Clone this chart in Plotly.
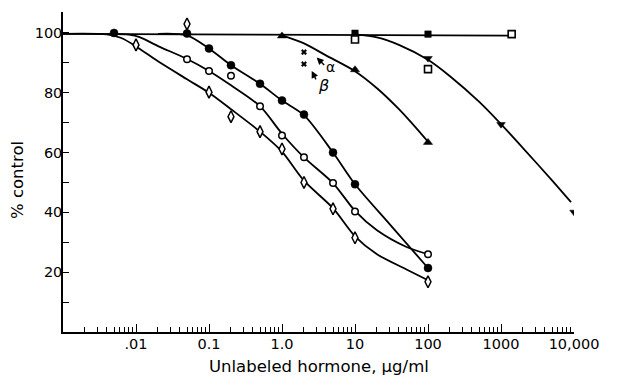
import numpy as np
import plotly.graph_objects as go

# ---------------- data ----------------
# marker series: x in ug/ml, y in % control
fcirc_x = [0.005, 0.05, 0.1, 0.2, 0.5, 1, 2, 5, 10, 100]
fcirc_y = [100, 99.8, 94.8, 89.2, 83, 77.4, 72.7, 60, 49.4, 21.4]

ocirc_x = [0.05, 0.1, 0.2, 0.5, 1, 2, 5, 10, 100]
ocirc_y = [91.2, 87.3, 85.7, 75.5, 65.7, 58.4, 49.8, 40.3, 26]

diam_x = [0.01, 0.05, 0.1, 0.2, 0.5, 1, 2, 5, 10, 100]
diam_y = [96, 103, 80.2, 72, 67, 61.2, 50, 41.2, 31.5, 16.8]

fsq_x = [10, 100, 1400]
fsq_y = [99.9, 99.6, 99.6]

osq_x = [10, 100, 1400]
osq_y = [97.8, 87.9, 99.6]

tri_x = [1, 10, 100]
tri_y = [99, 87.7, 63.4]

tdn_x = [100, 1000, 10000]
tdn_y = [91.5, 69.4, 40.1]

cross_x = [2, 2]
cross_y = [93.6, 89.6]

# hand-drawn fitted curves
fit_flat_x = [0.001, 1400]
fit_flat_y = [99.7, 99.1]

fit_diam_x = [0.001, 0.004, 0.0063, 0.01, 0.02, 0.05, 0.1, 0.2, 0.5, 1, 2, 5, 10, 20, 50, 100]
fit_diam_y = [99.7, 99.5, 98.3, 95.5, 90.5, 84.5, 80, 74.5, 67, 60.3, 50.6, 41.4, 32, 26, 21, 17.3]

fit_ocirc_x = [0.004, 0.008, 0.0112, 0.02, 0.05, 0.1, 0.2, 0.5, 1, 2, 5, 10, 20, 50, 100]
fit_ocirc_y = [99.7, 99.4, 98.6, 95.6, 91.3, 87.3, 82.5, 75.5, 66.3, 58.4, 49.8, 40.5, 34, 28.5, 26]

fit_fcirc_x = [0.02, 0.05, 0.1, 0.2, 0.5, 1, 2, 5, 10, 30, 100]
fit_fcirc_y = [99.7, 99.2, 94.8, 89.2, 83, 77.4, 72.5, 60, 49.4, 36.0, 21.4]

fit_tri_x = [1, 2, 4, 10, 20, 40, 70, 100]
fit_tri_y = [99.2, 96.5, 92.5, 87.2, 81.5, 74.5, 68, 63.6]

fit_tdn_x = [10, 20, 40, 100, 200, 500, 1000, 2000, 5000, 9100]
fit_tdn_y = [99.5, 98.5, 96, 91, 85.5, 77, 69.5, 61.5, 50.7, 43.4]

x_tickvals = [0.01, 0.1, 1, 10, 100, 1000, 10000]
x_ticktext = [".01", "0.1", "1.0", "10", "100", "1000", "10,000"]
y_tickvals = [20, 40, 60, 80, 100]
y_ticktext = ["20", "40", "60", "80", "100"]
y_minor = [10, 30, 50, 70, 90]

INK = "#000000"
FONT = "DejaVu Sans"

fig = go.Figure()

def curve(x, y, shape="spline"):
    fig.add_trace(go.Scatter(x=x, y=y, mode="lines",
                             line=dict(color=INK, width=1.8, shape=shape, smoothing=0.8),
                             hoverinfo="skip"))

curve(fit_flat_x, fit_flat_y, "linear")
curve(fit_diam_x, fit_diam_y)
curve(fit_ocirc_x, fit_ocirc_y)
curve(fit_fcirc_x, fit_fcirc_y)
curve(fit_tri_x, fit_tri_y)
curve(fit_tdn_x, fit_tdn_y)

def pts(x, y, symbol, size, fill, lw=1.4):
    fig.add_trace(go.Scatter(x=x, y=y, mode="markers",
                             marker=dict(symbol=symbol, size=size, color=fill,
                                         line=dict(color=INK, width=lw))))

pts(fsq_x, fsq_y, "square", 6.5, INK, 0.5)
pts(osq_x, osq_y, "square", 7, "white", 1.6)
pts(fcirc_x, fcirc_y, "circle", 8, INK, 0.5)
pts(ocirc_x, ocirc_y, "circle", 6.5, "white", 1.5)
pts(diam_x, diam_y, "diamond-tall", 8.5, "white", 1.5)
pts(tri_x, tri_y, "triangle-up", 8, INK, 0.5)
pts(tdn_x, tdn_y, "triangle-down", 7.5, INK, 0.5)
pts(cross_x, cross_y, "x", 5, INK, 0.3)

minor_x = [k * 10.0 ** e for e in range(-3, 4) for k in range(2, 10)]

fig.update_xaxes(type="log", range=[-3, 4], showline=True, linecolor=INK, linewidth=1.5,
                 showgrid=False, zeroline=False, automargin=False,
                 ticks="inside", ticklen=8, tickwidth=1.3, tickcolor=INK,
                 tickmode="array", tickvals=x_tickvals, ticktext=x_ticktext,
                 ticklabelstandoff=-2,
                 tickfont=dict(family=FONT, size=14.5, color=INK),
                 minor=dict(ticks="inside", ticklen=5, tickwidth=1.2, tickcolor=INK,
                            tickmode="array", tickvals=minor_x, showgrid=False))
fig.update_yaxes(range=[0, 107], showline=True, linecolor=INK, linewidth=1.5,
                 showgrid=False, zeroline=False, automargin=False,
                 ticks="inside", ticklen=6, tickwidth=1.3, tickcolor=INK,
                 tickmode="array", tickvals=y_tickvals, ticktext=y_ticktext,
                 ticklabelstandoff=-4,
                 tickfont=dict(family=FONT, size=14.5, color=INK),
                 minor=dict(ticks="inside", ticklen=6, tickwidth=1.2, tickcolor=INK,
                            tickmode="array", tickvals=y_minor, showgrid=False))

ann = []
# alpha / beta arrows and labels
ann.append(dict(x=0.475, y=91.8, xref="x", yref="y", text="", showarrow=True,
                ax=9, ay=9, arrowhead=2, arrowsize=1.0, arrowwidth=1.4, arrowcolor=INK))
ann.append(dict(x=0.407, y=87.3, xref="x", yref="y", text="", showarrow=True,
                ax=5, ay=10, arrowhead=2, arrowsize=1.0, arrowwidth=1.4, arrowcolor=INK))
ann.append(dict(x=0.66, y=88.6, xref="x", yref="y", text="α", showarrow=False,
                font=dict(family=FONT, size=14, color=INK)))
ann.append(dict(x=0.566, y=82.3, xref="x", yref="y", text="<i>β</i>", showarrow=False,
                font=dict(family=FONT, size=16, color=INK)))
# axis titles
ann.append(dict(x=0.5, y=-0.072, xref="paper", yref="paper", text="Unlabeled hormone, μg/ml",
                showarrow=False, xanchor="center", yanchor="top",
                font=dict(family=FONT, size=16.5, color=INK)))
ann.append(dict(x=-0.09, y=0.475, xref="paper", yref="paper", text="% control", textangle=-90,
                showarrow=False, xanchor="center", yanchor="middle",
                font=dict(family=FONT, size=16.5, color=INK)))

fig.update_layout(width=618, height=380, margin=dict(l=63, r=44, t=12, b=48),
                  plot_bgcolor="white", paper_bgcolor="white", showlegend=False,
                  annotations=ann, font=dict(family=FONT, color=INK))

fig.write_html("out.html", config={"displayModeBar": False},
               post_script="document.body.style.margin='0';document.body.style.overflow='hidden';")
